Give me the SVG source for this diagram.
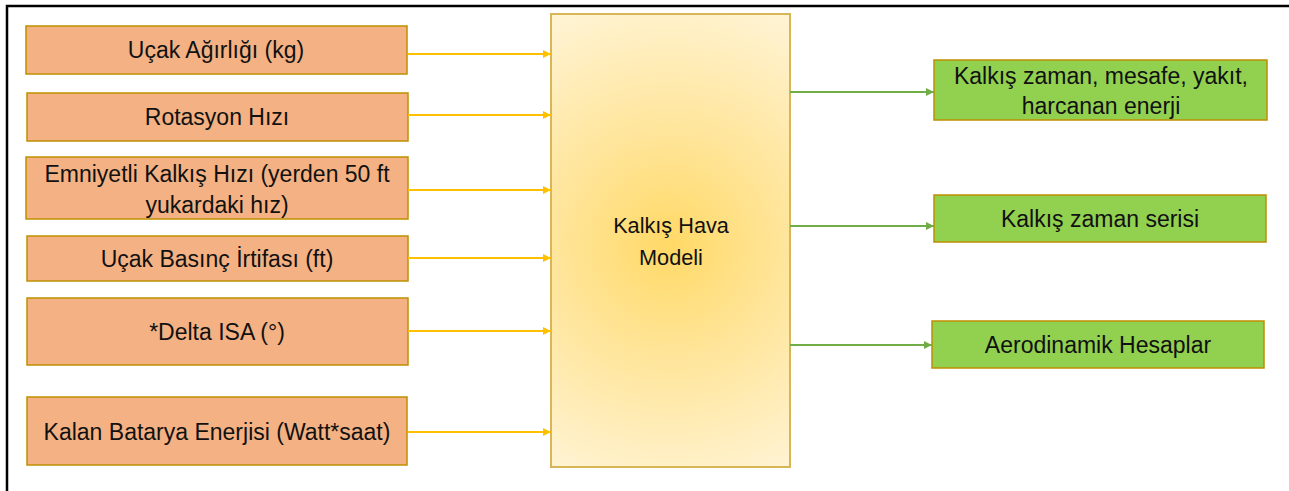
<svg xmlns="http://www.w3.org/2000/svg" width="1289" height="491" viewBox="0 0 1289 491">
  <defs>
    <radialGradient id="coreGlow" gradientUnits="userSpaceOnUse" cx="670" cy="245" r="250">
      <stop offset="0" stop-color="#FFD966"/>
      <stop offset="0.45" stop-color="#FFE59A"/>
      <stop offset="1" stop-color="#FFF3D2"/>
    </radialGradient>
    <marker id="headIn" markerWidth="8" markerHeight="8" refX="8" refY="4" orient="auto" markerUnits="userSpaceOnUse">
      <path d="M0,0 L8,4 L0,8 Z" fill="#FFC000"/>
    </marker>
    <marker id="headOut" markerWidth="8" markerHeight="8" refX="8" refY="4" orient="auto" markerUnits="userSpaceOnUse">
      <path d="M0,0 L8,4 L0,8 Z" fill="#70AD47"/>
    </marker>
  </defs>
  <style>
    .frame { stroke: #000; stroke-width: 2.5; fill: none; }
    .input rect { fill: #F4B183; stroke: #BF9000; stroke-width: 1.5; }
    .output rect { fill: #92D050; stroke: #BF8F00; stroke-width: 1.5; }
    .core rect { fill: url(#coreGlow); stroke: #D6B656; stroke-width: 2; }
    text { font-family: "Liberation Sans", Arial, sans-serif; font-size: 23px; fill: #111; text-anchor: middle; }
    .core text { font-size: 21.7px; }
    .in-line { stroke: #FFC000; stroke-width: 2; fill: none; marker-end: url(#headIn); }
    .out-line { stroke: #70AD47; stroke-width: 2; fill: none; marker-end: url(#headOut); }
  </style>

  <!-- page frame: left and top rules only -->
  <path class="frame" d="M7,491 L7,6 L1289,6"/>

  <!-- inputs -->
  <g id="input-weight" class="input">
    <rect x="26" y="26" width="381" height="48"/>
    <text x="216" y="58">Uçak Ağırlığı (kg)</text>
  </g>
  <g id="input-rotation-speed" class="input">
    <rect x="27" y="93" width="381" height="48"/>
    <text x="217" y="125">Rotasyon Hızı</text>
  </g>
  <g id="input-safe-takeoff-speed" class="input">
    <rect x="26" y="157" width="382" height="62"/>
    <text x="217" y="182">Emniyetli Kalkış Hızı (yerden 50 ft</text>
    <text x="217" y="213">yukardaki hız)</text>
  </g>
  <g id="input-pressure-altitude" class="input">
    <rect x="27" y="236" width="381" height="45"/>
    <text x="217" y="267">Uçak Basınç İrtifası (ft)</text>
  </g>
  <g id="input-delta-isa" class="input">
    <rect x="27" y="298" width="381" height="67"/>
    <text x="217" y="340">*Delta ISA (°)</text>
  </g>
  <g id="input-battery" class="input">
    <rect x="27" y="397" width="380" height="68"/>
    <text x="217" y="440">Kalan Batarya Enerjisi (Watt*saat)</text>
  </g>

  <!-- model -->
  <g id="takeoff-model" class="core">
    <rect x="551" y="14" width="239" height="453"/>
    <text x="671" y="233">Kalkış Hava</text>
    <text x="671" y="265">Modeli</text>
  </g>

  <!-- outputs -->
  <g id="output-summary" class="output">
    <rect x="934" y="60" width="333" height="60"/>
    <text x="1101" y="84">Kalkış zaman, mesafe, yakıt,</text>
    <text x="1101" y="114">harcanan enerji</text>
  </g>
  <g id="output-time-series" class="output">
    <rect x="934" y="195" width="332" height="47"/>
    <text x="1100" y="227">Kalkış zaman serisi</text>
  </g>
  <g id="output-aero" class="output">
    <rect x="932" y="321" width="332" height="47"/>
    <text x="1098" y="353">Aerodinamik Hesaplar</text>
  </g>

  <!-- connectors -->
  <g id="connectors">
    <line class="in-line" x1="408" y1="54" x2="551" y2="54"/>
    <line class="in-line" x1="408" y1="115" x2="551" y2="115"/>
    <line class="in-line" x1="408" y1="190" x2="551" y2="190"/>
    <line class="in-line" x1="408" y1="258" x2="551" y2="258"/>
    <line class="in-line" x1="408" y1="331" x2="551" y2="331"/>
    <line class="in-line" x1="408" y1="432" x2="551" y2="432"/>
    <line class="out-line" x1="790" y1="92" x2="934" y2="92"/>
    <line class="out-line" x1="790" y1="226" x2="934" y2="226"/>
    <line class="out-line" x1="790" y1="345" x2="932" y2="345"/>
  </g>
</svg>
